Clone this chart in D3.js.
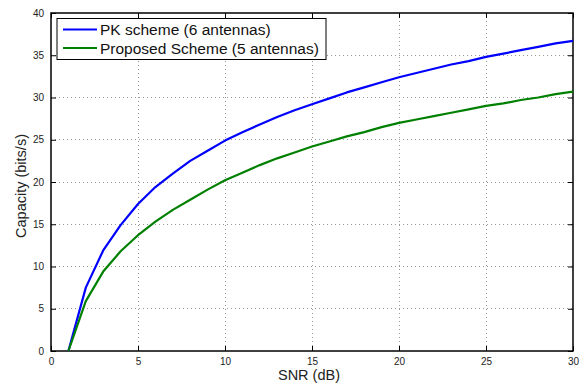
<!DOCTYPE html>
<html><head><meta charset="utf-8">
<script src="https://cdn.jsdelivr.net/npm/d3@7"></script>
<style>body{margin:0;background:#fff}svg{display:block}text{font-family:"Liberation Sans",Arial,Helvetica,sans-serif}</style>
</head><body><svg id="c" width="585" height="386"></svg>
<script>
const snr = d3.range(1, 31);
const pkScheme = [0,7.5,11.9,14.9,17.4,19.4,21.0,22.5,23.7,24.9,25.9,26.8,27.7,28.5,29.2,29.9,30.6,31.2,31.8,32.4,32.9,33.4,33.9,34.3,34.8,35.2,35.6,36.0,36.4,36.7];
const proposed = [0,5.9,9.4,11.8,13.7,15.3,16.7,17.9,19.1,20.2,21.1,22.0,22.8,23.5,24.2,24.8,25.4,25.9,26.5,27.0,27.4,27.8,28.2,28.6,29.0,29.3,29.7,30.0,30.4,30.7];
const xTicks = [0,5,10,15,20,25,30];
const yTicks = [0,5,10,15,20,25,30,35,40];
const seriesNames = ["PK scheme (6 antennas)", "Proposed Scheme (5 antennas)"];
const seriesColors = ["#0000ff", "#008000"];

const L = 51, R = 573, T = 13, B = 351;
const svg = d3.select("#c");
const x = d3.scaleLinear().domain([0,30]).range([L,R]);
const y = d3.scaleLinear().domain([0,40]).range([B,T]);

// grid
const g = svg.append("g");
g.selectAll(".gx").data(xTicks.slice(1,-1)).join("line")
  .attr("x1", d=>x(d)).attr("x2", d=>x(d)).attr("y1", T).attr("y2", B)
  .attr("stroke", "#999").attr("stroke-width", 1).attr("stroke-dasharray", "1,3").attr("shape-rendering","crispEdges");
g.selectAll(".gy").data(yTicks.slice(1,-1)).join("line")
  .attr("y1", d=>y(d)).attr("y2", d=>y(d)).attr("x1", L).attr("x2", R)
  .attr("stroke", "#999").attr("stroke-width", 1).attr("stroke-dasharray", "1,3").attr("shape-rendering","crispEdges");

// axes (inward ticks)
const fs = 10;
svg.append("g").attr("transform", `translate(0,${B})`)
  .call(d3.axisBottom(x).tickValues(xTicks).tickSizeInner(-5).tickSizeOuter(0).tickPadding(7))
  .call(a=>{a.select(".domain").remove(); a.selectAll("text").attr("font-size", fs).attr("font-family","Liberation Sans, Arial").attr("fill","#222");});
svg.append("g").attr("transform", `translate(0,${T})`)
  .call(d3.axisTop(x).tickValues(xTicks).tickSizeInner(-5).tickSizeOuter(0).tickFormat(""))
  .call(a=>a.select(".domain").remove());
svg.append("g").attr("transform", `translate(${L},0)`)
  .call(d3.axisLeft(y).tickValues(yTicks).tickSizeInner(-5).tickSizeOuter(0).tickPadding(7))
  .call(a=>{a.select(".domain").remove(); a.selectAll("text").attr("font-size", fs).attr("font-family","Liberation Sans, Arial").attr("fill","#222");});
svg.append("g").attr("transform", `translate(${R},0)`)
  .call(d3.axisRight(y).tickValues(yTicks).tickSizeInner(-5).tickSizeOuter(0).tickFormat(""))
  .call(a=>a.select(".domain").remove());
svg.append("rect").attr("x", L).attr("y", T).attr("width", R-L).attr("height", B-T)
  .attr("fill", "none").attr("stroke", "#000").attr("stroke-width", 1.5);

// lines
const line = d3.line().x((d,i)=>x(snr[i])).y(d=>y(d));
[pkScheme, proposed].forEach((s,k)=>{
  svg.append("path").datum(s).attr("d", line).attr("fill","none")
    .attr("stroke", seriesColors[k]).attr("stroke-width", 2.2).attr("stroke-linejoin","round");
});

// labels
svg.append("text").attr("x", 309).attr("y", 380).attr("text-anchor","middle").attr("font-size", 14.5).attr("fill","#222").text("SNR (dB)");
svg.append("text").attr("transform", `translate(26,186) rotate(-90)`).attr("text-anchor","middle").attr("font-size", 14.5).attr("fill","#222").text("Capacity (bits/s)");

// legend
const lg = svg.append("g");
lg.append("rect").attr("x", 57).attr("y", 18.5).attr("width", 269).attr("height", 41)
  .attr("fill", "#fff").attr("stroke", "#000").attr("stroke-width", 1);
seriesNames.forEach((n,k)=>{
  const yy = 29.5 + k*18.5;
  lg.append("line").attr("x1", 63).attr("x2", 97).attr("y1", yy).attr("y2", yy)
    .attr("stroke", seriesColors[k]).attr("stroke-width", 2.2);
  lg.append("text").attr("x", 100).attr("y", yy+5.5).attr("font-size", 15.5).attr("fill","#111").text(n);
});
</script></body></html>
